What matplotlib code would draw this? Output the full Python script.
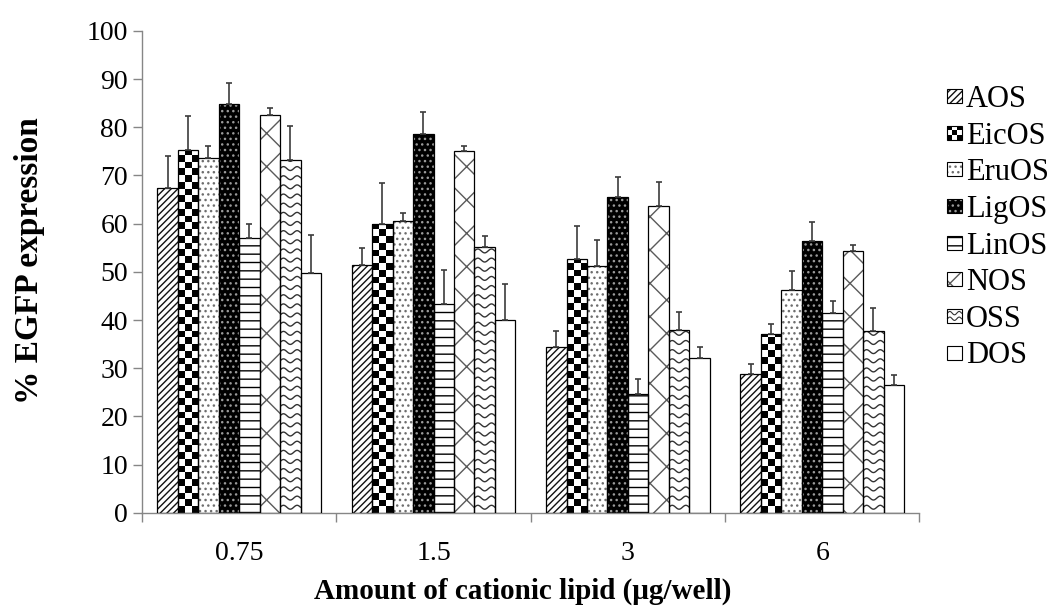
import numpy as np
import matplotlib
matplotlib.use("Agg")
import matplotlib.pyplot as plt
from matplotlib.patches import Patch, Rectangle
from matplotlib.lines import Line2D
from matplotlib.legend_handler import HandlerBase

plt.rcParams['font.family'] = ['Liberation Serif', 'DejaVu Serif']
plt.rcParams['hatch.linewidth'] = 1.0

doses = ['0.75', '1.5', '3', '6']
labels = ['AOS', 'EicOS', 'EruOS', 'LigOS', 'LinOS', 'NOS', 'OSS', 'DOS']

# mean % EGFP expression per dose
aos = [67.4, 51.4, 34.4, 28.8]
eicos = [75.2, 59.9, 52.6, 37.2]
eruos = [73.6, 60.6, 51.3, 46.2]
ligos = [84.9, 78.7, 65.6, 56.4]
linos = [57.1, 43.3, 24.7, 41.5]
nos = [82.5, 75.1, 63.6, 54.3]
oss = [73.2, 55.1, 37.9, 37.7]
dos = [49.7, 40.1, 32.1, 26.5]

# upper error bars
aos_err = [6.6, 3.6, 3.3, 2.1]
eicos_err = [7.2, 8.6, 6.9, 2.0]
eruos_err = [2.6, 1.6, 5.4, 3.9]
ligos_err = [4.3, 4.4, 4.0, 4.0]
linos_err = [2.8, 7.0, 3.0, 2.4]
nos_err = [1.5, 1.0, 5.1, 1.2]
oss_err = [7.1, 2.4, 3.7, 4.8]
dos_err = [7.9, 7.4, 2.3, 2.1]

series = [aos, eicos, eruos, ligos, linos, nos, oss, dos]
errors = [aos_err, eicos_err, eruos_err, ligos_err, linos_err, nos_err, oss_err, dos_err]

# face colour, hatch colour, hatch, extra texture
styles = {
    'AOS': ('white', '#111111', '/////', None),
    'EicOS': ('white', 'black', '', 'checker'),
    'EruOS': ('white', '#6e6e6e', '...', None),
    'LigOS': ('black', '#9a9a9a', '...', None),
    'LinOS': ('white', 'black', '--', None),
    'NOS': ('white', '#5a5a5a', 'x', None),
    'OSS': ('white', '#333333', '', 'wave'),
    'DOS': ('white', 'black', '', None),
}


def add_checker(ax, rect, cell_h=1.4, ncols=3):
    x0, w, h = rect.get_x(), rect.get_width(), rect.get_height()
    nrows = int(np.ceil(h / cell_h))
    img = np.add.outer(np.arange(nrows), np.arange(ncols)) % 2
    im = ax.imshow(img, cmap='gray', vmin=0, vmax=1, origin='lower',
                   extent=(x0, x0 + w, 0, nrows * cell_h),
                   interpolation='nearest', aspect='auto', zorder=2)
    im.set_clip_path(rect)


def add_waves(ax, rect, color, step=1.9, amp=0.4):
    x0, w, h = rect.get_x(), rect.get_width(), rect.get_height()
    xs = np.linspace(x0, x0 + w, 50)
    for lev in np.arange(step * 0.6, h + amp, step):
        line, = ax.plot(xs, lev + amp * np.sin(2 * np.pi * 1.5 * (xs - x0) / w),
                        color=color, lw=1.0, zorder=2)
        line.set_clip_path(rect)


class Swatch(HandlerBase):
    def __init__(self, style):
        super().__init__()
        self.style = style

    def create_artists(self, legend, orig_handle, xdescent, ydescent,
                       width, height, fontsize, trans):
        face, hcol, hatch, tex = self.style
        s = min(width, height)
        x0 = -xdescent + (width - s) / 2
        y0 = -ydescent + (height - s) / 2
        arts = [Rectangle((x0, y0), s, s, facecolor=face, edgecolor=hcol,
                          hatch=hatch, lw=0, transform=trans)]
        if tex == 'checker':
            c = s / 3
            for i in range(3):
                for k in range(3):
                    if (i + k) % 2 == 0:
                        arts.append(Rectangle((x0 + i * c, y0 + k * c), c, c,
                                              facecolor='black', lw=0, transform=trans))
        elif tex == 'wave':
            xs = np.linspace(x0, x0 + s, 20)
            for lev in (0.3, 0.7):
                ys = y0 + s * lev + s * 0.12 * np.sin(2 * np.pi * 1.5 * (xs - x0) / s)
                arts.append(Line2D(xs, ys, color=hcol, lw=0.8, transform=trans))
        arts.append(Rectangle((x0, y0), s, s, facecolor='none', edgecolor='black',
                              lw=0.8, transform=trans))
        return arts


fig = plt.figure(figsize=(10.61, 6.07), dpi=100)
ax = fig.add_axes([0.1338, 0.1553, 0.7328, 0.7937])

w = 1 / 9.5
x = np.arange(len(doses)) + 0.5
for j, (lab, vals, err) in enumerate(zip(labels, series, errors)):
    face, hcol, hatch, tex = styles[lab]
    pos = x + (j - 3.5) * w
    bars = ax.bar(pos, vals, w, color=face, edgecolor=hcol, hatch=hatch,
                  linewidth=0, zorder=1)
    for b in bars:
        if tex == 'checker':
            add_checker(ax, b)
        elif tex == 'wave':
            add_waves(ax, b, hcol)
    ax.bar(pos, vals, w, facecolor='none', edgecolor='black', linewidth=0.9, zorder=3)
    ax.errorbar(pos, vals, yerr=[np.zeros(len(vals)), err], fmt='none',
                ecolor='#3c3c3c', elinewidth=1.2, capsize=2.5, capthick=1.2, zorder=4)

ax.set_xlim(0, 4)
ax.set_ylim(0, 100)
ax.set_yticks(range(0, 101, 10))
ax.set_xticks(x)
ax.set_xticklabels(doses)
ax.set_xticks(np.arange(5), minor=True)

grey = '#868686'
for side in ['top', 'right']:
    ax.spines[side].set_visible(False)
for side in ['left', 'bottom']:
    ax.spines[side].set_color(grey)
    ax.spines[side].set_linewidth(1.0)
ax.tick_params(axis='x', which='major', length=0, pad=20, labelsize=20)
ax.tick_params(axis='x', which='minor', length=6.5, width=1, color=grey)
ax.tick_params(axis='y', length=6.5, width=1, color=grey, pad=3.6, labelsize=20)

ax.set_ylabel('% EGFP expression', fontsize=24, fontweight='bold')
ax.yaxis.set_label_coords(-0.125, 0.524)
ax.set_xlabel('Amount of cationic lipid (μg/well)', fontsize=21, fontweight='bold')
ax.xaxis.set_label_coords(0.49, -0.135)

handles = [Patch(label=l) for l in labels]
hmap = {h: Swatch(styles[l]) for h, l in zip(handles, labels)}
fig.legend(handles=handles, labels=labels, handler_map=hmap, loc='upper left',
           bbox_to_anchor=(0.893, 0.86), frameon=False, fontsize=22,
           handlelength=0.46, handleheight=0.46, handletextpad=0.15,
           labelspacing=0.25, borderpad=0, borderaxespad=0)

fig.savefig('out.png', dpi=100)
